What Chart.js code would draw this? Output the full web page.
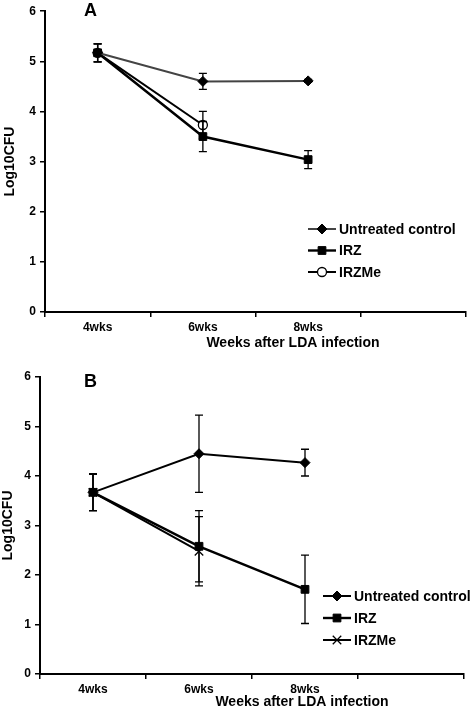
<!DOCTYPE html>
<html>
<head>
<meta charset="utf-8">
<script src="https://cdn.jsdelivr.net/npm/chart.js@4.4.1/dist/chart.umd.min.js"></script>
<style>
html, body { margin: 0; padding: 0; background: #fff; }
#wrap { position: relative; width: 475px; height: 708px; }
canvas { position: absolute; left: 0; }
#chartA { top: 0; }
#chartB { top: 354px; }
</style>
</head>
<body>
<div id="wrap">
<canvas id="chartA" width="475" height="354"></canvas>
<canvas id="chartB" width="475" height="354"></canvas>
</div>
<script>
const WEEKS = ['4wks', '6wks', '8wks', ''];
const NAMES = ['Untreated control', 'IRZ', 'IRZMe'];
const X_TITLE = 'Weeks after LDA infection';
const Y_TITLE = 'Log10CFU';

// panel A
const A_UNTREATED = [5.17, 4.60, 4.61];
const A_UNTREATED_ERR = [0.18, 0.16, 0.03];
const A_IRZ = [5.17, 3.50, 3.04];
const A_IRZ_ERR = [0.18, 0.30, 0.18];
const A_IRZME = [5.17, 3.73, null];
const A_IRZME_ERR = [0.18, 0.27, null];

// panel B
const B_UNTREATED = [3.67, 4.45, 4.27];
const B_UNTREATED_ERR = [0.37, 0.78, 0.27];
const B_IRZ = [3.67, 2.58, 1.71];
const B_IRZ_ERR = [0.37, 0.72, 0.69];
const B_IRZME = [3.67, 2.48, null];
const B_IRZME_ERR = [0.37, 0.70, null];

const FONT = '"Liberation Sans", Arial, Helvetica, sans-serif';

// barre d'errore verticali con cappuccio
const errorBars = {
    id: 'errorBars',
    afterDatasetsDraw(chart) {
        const ctx = chart.ctx;
        const ys = chart.scales.y;
        ctx.save();
        ctx.strokeStyle = '#000';
        ctx.lineWidth = 1.3;
        chart.data.datasets.forEach((ds, di) => {
            const meta = chart.getDatasetMeta(di);
            (ds.errors || []).forEach((e, i) => {
                const v = ds.data[i];
                if (v == null || e == null) return;
                const x = meta.data[i].x;
                const top = ys.getPixelForValue(v + e);
                const bot = ys.getPixelForValue(v - e);
                ctx.beginPath();
                ctx.moveTo(x, top); ctx.lineTo(x, bot);
                ctx.moveTo(x - 4, top); ctx.lineTo(x + 4, top);
                ctx.moveTo(x - 4, bot); ctx.lineTo(x + 4, bot);
                ctx.stroke();
            });
        });
        ctx.restore();
    }
};

// legenda dentro l'area, lettera del pannello, titolo asse x
const panelDecor = {
    id: 'panelDecor',
    afterDraw(chart, args, opts) {
        const ctx = chart.ctx;
        ctx.save();
        chart.data.datasets.forEach((ds, i) => {
            const y = opts.legendY + i * opts.legendGap;
            ctx.strokeStyle = ds.borderColor;
            ctx.lineWidth = ds.borderWidth;
            ctx.beginPath();
            ctx.moveTo(opts.legendX, y);
            ctx.lineTo(opts.legendX + 28, y);
            ctx.stroke();
            ctx.fillStyle = ds.pointBackgroundColor;
            ctx.strokeStyle = ds.pointBorderColor;
            ctx.lineWidth = ds.pointBorderWidth;
            Chart.helpers.drawPoint(ctx, {
                pointStyle: ds.pointStyle,
                radius: ds.pointRadius,
                rotation: 0,
                borderWidth: ds.pointBorderWidth
            }, opts.legendX + 14, y);
            ctx.fillStyle = '#000';
            ctx.font = 'bold 14px ' + FONT;
            ctx.textAlign = 'left';
            ctx.textBaseline = 'middle';
            ctx.fillText(ds.label, opts.legendX + 31, y + 1);
        });
        ctx.font = 'bold 18px ' + FONT;
        ctx.textAlign = 'left';
        ctx.textBaseline = 'middle';
        ctx.fillText(opts.letter, opts.letterX, opts.letterY);
        ctx.font = 'bold 14px ' + FONT;
        ctx.textAlign = 'center';
        ctx.fillText(X_TITLE, opts.titleX, opts.titleY);
        ctx.restore();
    }
};

function makeChart(id, series, errs, thirdStyle, lay) {
    const common = { fill: false, tension: 0, pointBorderColor: '#000', pointBorderWidth: 1 };
    return new Chart(document.getElementById(id), {
        type: 'line',
        data: {
            labels: WEEKS,
            datasets: [
                Object.assign({}, common, {
                    label: NAMES[0], data: series[0], errors: errs[0],
                    borderColor: lay.ctrlColor, borderWidth: 2,
                    pointStyle: 'rectRot', pointRadius: 5, pointBackgroundColor: '#000'
                }),
                Object.assign({}, common, {
                    label: NAMES[1], data: series[1], errors: errs[1],
                    borderColor: '#000', borderWidth: 2.4,
                    pointStyle: 'rect', pointRadius: 5.5, pointBackgroundColor: '#000'
                }),
                Object.assign({}, common, thirdStyle, {
                    label: NAMES[2], data: series[2], errors: errs[2],
                    borderColor: '#000', borderWidth: 2
                })
            ]
        },
        options: {
            responsive: false,
            animation: false,
            devicePixelRatio: 1,
            layout: { autoPadding: false, padding: { top: lay.top, right: lay.right, left: 0, bottom: 0 } },
            scales: {
                x: {
                    offset: true,
                    afterFit: s => { s.height = lay.xHeight; },
                    grid: { drawOnChartArea: false, offset: true, tickLength: 5, color: '#000', lineWidth: 1.5 },
                    border: { display: true, color: '#000', width: 2 },
                    ticks: { color: '#000', padding: 3, font: { family: FONT, size: 12, weight: 'bold' } }
                },
                y: {
                    min: 0, max: 6,
                    afterFit: s => { s.width = lay.yWidth; },
                    grid: { drawOnChartArea: false, tickLength: 5, color: '#000', lineWidth: 1.5 },
                    border: { display: true, color: '#000', width: 2 },
                    ticks: { stepSize: 1, color: '#000', padding: 4, font: { family: FONT, size: 12, weight: 'bold' } },
                    title: {
                        display: true, text: Y_TITLE, color: '#000',
                        padding: { top: lay.yTitlePad, bottom: 0 },
                        font: { family: FONT, size: 14, weight: 'bold' }
                    }
                }
            },
            plugins: {
                legend: { display: false },
                tooltip: { enabled: false },
                panelDecor: lay.decor
            }
        },
        plugins: [errorBars, panelDecor]
    });
}

makeChart('chartA',
    [A_UNTREATED, A_IRZ, A_IRZME],
    [A_UNTREATED_ERR, A_IRZ_ERR, A_IRZME_ERR],
    { pointStyle: 'circle', pointRadius: 4.5, pointBackgroundColor: '#fff', pointBorderWidth: 1.3 },
    {
        top: 4, right: 9, xHeight: 42, yWidth: 45, yTitlePad: 2, ctrlColor: '#444',
        decor: { legendX: 308, legendY: 229, legendGap: 21.5, letter: 'A', letterX: 84, letterY: 11, titleX: 293, titleY: 343 }
    });

makeChart('chartB',
    [B_UNTREATED, B_IRZ, B_IRZME],
    [B_UNTREATED_ERR, B_IRZ_ERR, B_IRZME_ERR],
    { pointStyle: 'crossRot', pointRadius: 6, pointBackgroundColor: '#000', pointBorderWidth: 1.3 },
    {
        top: 23, right: 11, xHeight: 34, yWidth: 40, yTitlePad: 0, ctrlColor: '#000',
        decor: { legendX: 323, legendY: 242, legendGap: 22, letter: 'B', letterX: 84, letterY: 28, titleX: 302, titleY: 348 }
    });
</script>
</body>
</html>
